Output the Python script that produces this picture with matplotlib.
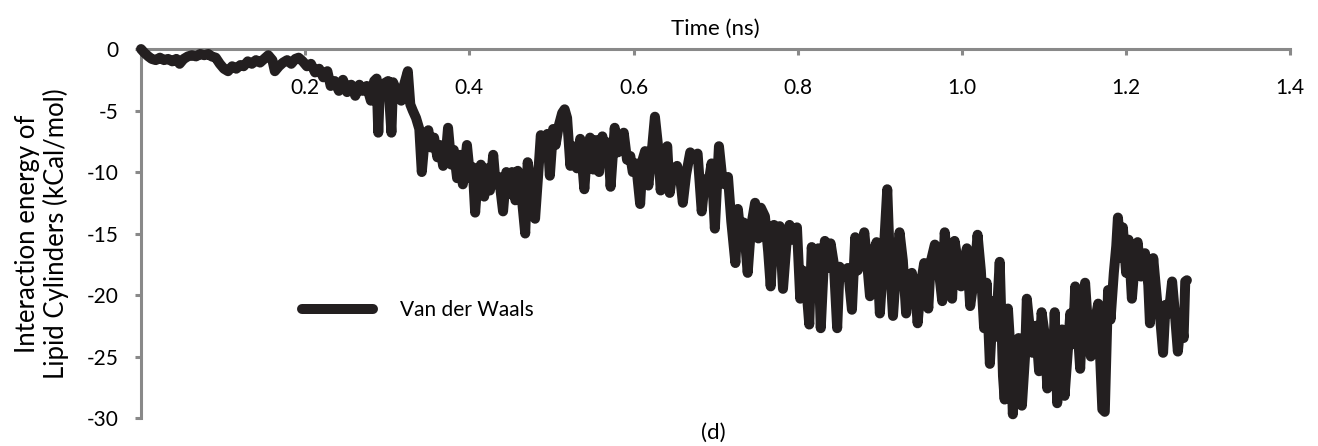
import matplotlib
matplotlib.use("Agg")
import matplotlib.pyplot as plt

# time (ns) and Van der Waals interaction energy (kCal/mol)
time_ns = [
    0.000, 0.004, 0.009, 0.013, 0.018, 0.023, 0.028, 0.033, 0.038, 0.043,
    0.047, 0.052, 0.057, 0.062, 0.067, 0.072, 0.077, 0.082, 0.086, 0.091,
    0.096, 0.101, 0.106, 0.111, 0.116, 0.121, 0.125, 0.130, 0.135, 0.140,
    0.145, 0.150, 0.155, 0.160, 0.163, 0.168, 0.173, 0.178, 0.183, 0.188,
    0.192, 0.197, 0.202, 0.207, 0.212, 0.217, 0.222, 0.227, 0.231, 0.236,
    0.241, 0.246, 0.251, 0.256, 0.261, 0.266, 0.270, 0.275, 0.280, 0.284,
    0.287, 0.289, 0.291, 0.296, 0.301, 0.305, 0.307, 0.312, 0.317, 0.320,
    0.325, 0.328, 0.331, 0.335, 0.339, 0.342, 0.346, 0.350, 0.353, 0.357,
    0.361, 0.364, 0.368, 0.372, 0.374, 0.378, 0.381, 0.385, 0.389, 0.392,
    0.397, 0.401, 0.404, 0.407, 0.410, 0.414, 0.418, 0.421, 0.425, 0.429,
    0.432, 0.436, 0.441, 0.445, 0.448, 0.452, 0.456, 0.459, 0.463, 0.468,
    0.471, 0.475, 0.480, 0.484, 0.487, 0.491, 0.495, 0.498, 0.502, 0.505,
    0.509, 0.513, 0.516, 0.519, 0.523, 0.526, 0.531, 0.535, 0.540, 0.543,
    0.547, 0.551, 0.554, 0.558, 0.562, 0.565, 0.569, 0.572, 0.577, 0.581,
    0.585, 0.588, 0.592, 0.596, 0.599, 0.603, 0.608, 0.611, 0.614, 0.618,
    0.621, 0.626, 0.630, 0.633, 0.637, 0.641, 0.644, 0.648, 0.653, 0.657,
    0.660, 0.664, 0.669, 0.674, 0.678, 0.683, 0.687, 0.691, 0.695, 0.699,
    0.704, 0.708, 0.711, 0.715, 0.719, 0.724, 0.727, 0.731, 0.734, 0.739,
    0.743, 0.748, 0.752, 0.755, 0.760, 0.764, 0.767, 0.771, 0.775, 0.778,
    0.782, 0.786, 0.790, 0.794, 0.799, 0.803, 0.806, 0.810, 0.814, 0.817,
    0.821, 0.825, 0.828, 0.833, 0.837, 0.840, 0.844, 0.848, 0.851, 0.856,
    0.861, 0.866, 0.870, 0.873, 0.877, 0.881, 0.884, 0.888, 0.892, 0.896,
    0.900, 0.904, 0.909, 0.912, 0.916, 0.920, 0.924, 0.928, 0.932, 0.935,
    0.939, 0.943, 0.946, 0.950, 0.954, 0.959, 0.962, 0.967, 0.971, 0.976,
    0.979, 0.983, 0.988, 0.991, 0.995, 0.999, 1.002, 1.006, 1.010, 1.015,
    1.019, 1.023, 1.027, 1.030, 1.034, 1.038, 1.041, 1.046, 1.050, 1.052,
    1.056, 1.060, 1.062, 1.066, 1.069, 1.073, 1.077, 1.079, 1.083, 1.086,
    1.090, 1.094, 1.097, 1.101, 1.104, 1.107, 1.111, 1.113, 1.116, 1.119,
    1.122, 1.125, 1.129, 1.132, 1.135, 1.138, 1.141, 1.144, 1.147, 1.150,
    1.153, 1.157, 1.161, 1.166, 1.168, 1.171, 1.174, 1.178, 1.181, 1.185,
    1.188, 1.190, 1.194, 1.196, 1.200, 1.203, 1.207, 1.211, 1.214, 1.218,
    1.223, 1.227, 1.229, 1.233, 1.238, 1.241, 1.245, 1.248, 1.252, 1.256,
    1.259, 1.263, 1.267, 1.270, 1.272, 1.274,
]
vdw_energy = [
    0.0, -0.3, -0.6, -0.8, -0.9, -0.7, -0.9, -0.8, -1.0, -0.8,
    -1.2, -0.8, -0.6, -0.5, -0.6, -0.4, -0.5, -0.4, -0.6, -0.7,
    -1.2, -1.6, -1.8, -1.4, -1.6, -1.3, -1.4, -1.0, -1.2, -0.9,
    -1.1, -0.8, -0.5, -0.9, -1.8, -1.4, -1.1, -0.9, -1.2, -0.8,
    -0.7, -1.0, -1.4, -1.2, -1.9, -1.6, -2.3, -1.8, -3.0, -2.6,
    -3.4, -2.5, -3.5, -2.9, -3.8, -2.9, -3.4, -3.0, -4.2, -2.6,
    -2.4, -6.8, -3.0, -2.8, -2.6, -6.8, -2.7, -3.5, -4.2, -3.0,
    -1.8, -4.5, -5.0, -5.6, -6.5, -10.0, -7.0, -6.6, -8.0, -7.2,
    -8.8, -7.8, -9.5, -8.0, -6.4, -9.4, -8.2, -10.5, -8.6, -11.0,
    -7.8, -10.5, -9.6, -13.3, -10.5, -9.4, -12.0, -9.7, -11.5, -8.6,
    -11.0, -10.4, -13.2, -10.0, -11.8, -10.0, -12.3, -9.9, -11.5, -15.0,
    -9.2, -11.0, -13.8, -10.0, -7.0, -8.5, -6.9, -10.3, -6.5, -7.8,
    -6.2, -5.2, -4.9, -5.6, -9.5, -7.9, -9.7, -7.3, -11.4, -8.6,
    -7.2, -9.8, -7.4, -10.0, -7.1, -8.9, -7.6, -11.2, -6.4, -8.4,
    -7.8, -6.8, -9.0, -8.7, -10.0, -9.3, -12.6, -9.0, -8.3, -11.1,
    -9.2, -5.5, -8.0, -11.5, -9.1, -7.9, -11.7, -9.8, -9.5, -10.6,
    -12.5, -10.2, -8.4, -8.9, -8.5, -13.2, -10.6, -11.0, -9.3, -14.6,
    -7.9, -10.5, -11.0, -10.4, -14.0, -17.4, -13.0, -15.5, -14.1, -18.2,
    -14.5, -12.5, -15.4, -12.9, -13.6, -16.5, -19.3, -14.3, -15.5, -14.4,
    -19.5, -16.0, -14.3, -15.5, -14.5, -20.3, -18.0, -19.0, -22.4, -16.1,
    -18.5, -16.2, -22.7, -15.6, -17.8, -15.8, -17.5, -22.7, -17.7, -18.5,
    -17.8, -21.2, -15.3, -18.0, -17.2, -14.9, -17.0, -20.1, -16.5, -15.7,
    -21.5, -17.4, -11.4, -17.0, -21.7, -17.7, -14.9, -17.2, -21.5, -19.2,
    -18.2, -19.5, -22.3, -19.1, -17.4, -21.1, -17.3, -15.9, -17.5, -20.5,
    -14.9, -17.5, -20.3, -15.6, -17.3, -19.3, -17.5, -16.2, -20.9, -18.5,
    -15.1, -18.0, -22.7, -19.0, -25.6, -20.5, -23.4, -17.3, -26.6, -28.5,
    -21.1, -25.5, -29.7, -24.0, -23.5, -29.0, -24.8, -20.3, -23.0, -24.7,
    -22.5, -26.2, -21.4, -23.3, -27.6, -24.0, -25.2, -21.4, -28.8, -25.3,
    -22.8, -28.2, -24.5, -21.5, -24.0, -19.3, -22.8, -26.0, -21.5, -19.0,
    -22.0, -25.0, -22.5, -20.7, -24.5, -29.3, -29.5, -19.6, -22.0, -18.2,
    -16.0, -13.7, -17.0, -14.5, -18.2, -15.5, -20.3, -17.0, -15.7, -18.5,
    -16.6, -19.2, -22.3, -17.0, -20.7, -21.5, -24.7, -20.8, -21.5, -18.9,
    -21.2, -24.6, -21.8, -23.5, -18.9, -18.8,
]

x_ticks = [0.2, 0.4, 0.6, 0.8, 1.0, 1.2, 1.4]
x_labels = ["0.2", "0.4", "0.6", "0.8", "1.0", "1.2", "1.4"]
y_ticks = [0, -5, -10, -15, -20, -25, -30]

plt.rcParams['font.family'] = ['Lato', 'DejaVu Sans']
plt.rcParams['axes.unicode_minus'] = False
axis_grey = "#898989"
line_col = "#231f20"

fig = plt.figure(figsize=(13.18, 4.46), dpi=100)
ax = fig.add_axes([0.107, 0.0628, 0.872, 0.8272])

ax.plot(time_ns, vdw_energy, color=line_col, lw=7.2, solid_joinstyle='round',
        solid_capstyle='round', clip_on=False, label="Van der Waals")

ax.set_xlim(0, 1.4)
ax.set_ylim(-30, 0)

# x axis sits on y = 0 (the top), labels hang below it
ax.spines['bottom'].set_position(('data', 0))
ax.spines['top'].set_visible(False)
ax.spines['right'].set_visible(False)
for s in ['bottom', 'left']:
    ax.spines[s].set_color(axis_grey)
    ax.spines[s].set_linewidth(2.2)
    ax.spines[s].set_zorder(1)

ax.set_xticks(x_ticks)
ax.set_xticklabels(x_labels)
ax.set_yticks(y_ticks)
ax.tick_params(axis='x', direction='out', length=4, width=2.2, color=axis_grey,
               labelsize=15, pad=17)
ax.tick_params(axis='y', direction='out', length=4, width=2.2, color=axis_grey,
               labelsize=15, pad=12)

ax.xaxis.set_label_position('top')
ax.set_xlabel("Time (ns)", fontsize=16, labelpad=10)
ax.set_ylabel("Interaction energy of\nLipid Cylinders (kCal/mol)", fontsize=18.5,
              labelpad=13, linespacing=1.15)

ax.legend(loc='center left', bbox_to_anchor=(0.140, 0.293), frameon=False,
          fontsize=15, handlelength=3.4, handletextpad=1.3, borderpad=0,
          borderaxespad=0)

fig.text(0.541, 0.03, "(d)", fontsize=16, ha='center', va='center')

fig.savefig("out.png", dpi=100)
